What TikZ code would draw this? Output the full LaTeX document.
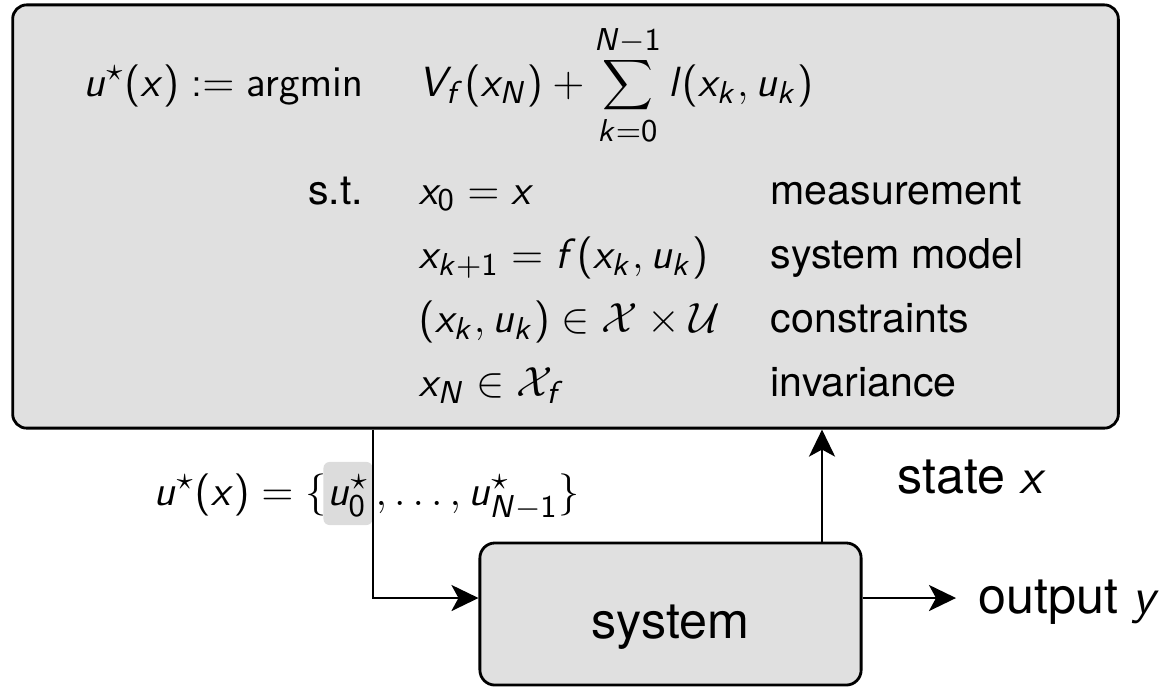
\documentclass[tikz,border=0pt]{standalone}
\usepackage[no-math]{fontspec}
\setmainfont{TeX Gyre Heros}
\usetikzlibrary{arrows.meta,positioning}

% sans serif math: slanted cmss letters, upright cmss digits and operators
\DeclareSymbolFont{sfletters}{OT1}{cmss}{m}{sl}
\SetSymbolFont{operators}{normal}{OT1}{cmss}{m}{n}
\makeatletter
\def\sfltr#1{\mathcode`#1=\numexpr"7000+\symsfletters*"100+`#1\relax}
\@tfor\ltr:=abcdefghijklmnopqrstuvwxyzABCDEFGHIJKLMNOPQRSTUVWXYZ\do{\expandafter\sfltr\ltr}
\makeatother

\definecolor{boxgray}{HTML}{E0E0E0}
\definecolor{hilite}{HTML}{DCDCDC}

\begin{document}
\begin{tikzpicture}[x=0.01cm, y=-0.01cm,
    font=\fontsize{12.2}{14}\selectfont,
    block/.style={draw, line width=0.8pt, fill=boxgray, rounded corners=0.14cm},
    cell/.style={inner sep=0pt},
    note/.style={inner sep=0pt, font=\fontsize{11.7}{14}\selectfont},
    lbl/.style={inner sep=0pt, font=\fontsize{14.3}{17}\selectfont},
    hilitebox/.style={fill=hilite, rounded corners=0.06cm, inner sep=0pt},
    sig/.style={line width=0.8pt, -{Stealth[length=0.27cm, width=0.26cm, inset=0.07cm]}}
]
    \useasboundingbox (0,0) rectangle (1171,687);

    % blocks
    \node[block, minimum width=11.05cm, minimum height=4.23cm] (mpc) at (565.5,216.5) {};
    \node[block, minimum width=3.81cm, minimum height=1.42cm, rounded corners=0.15cm,
          lbl, text height=0.58cm, text depth=0.1cm] (sys) at (670.5,614) {system};

    % optimal control problem
    \node[cell, anchor=base east] (cost) at (364,96) {$u^\star(x) \mathrel{:}\mathrel{=} \mathop{\mathrm{argmin}}$};
    \node[cell, anchor=base west] (obj) at (418,96) {$\displaystyle V_f(x_N) + \sum_{k=0}^{N-1} l(x_k, u_k)$};
    \node[note, anchor=base east] (st) at (364,204) {s.t.};
    \node[cell, anchor=base west] (c1) at (418,204) {$x_0 = x$};
    \node[cell, anchor=base west] (c2) at (418,268) {$x_{k+1} = f(x_k, u_k)$};
    \node[cell, anchor=base west] (c3) at (418,332) {$(x_k, u_k) \in \mathcal{X} \times \mathcal{U}$};
    \node[cell, anchor=base west] (c4) at (418,396) {$x_N \in \mathcal{X}_f$};
    \node[note, anchor=base west] (d1) at (770,204) {measurement};
    \node[note, anchor=base west] (d2) at (770,268) {system model};
    \node[note, anchor=base west] (d3) at (770,332) {constraints};
    \node[note, anchor=base west] (d4) at (770,396) {invariance};

    % input sequence, first element marked
    \node[hilitebox, anchor=base, minimum width=0.49cm, text height=0.43cm, text depth=0.2cm] (u0) at (348,505) {$u_0^\star$};
    \node[cell, anchor=base east] (useq) at (327,505) {$u^\star(x) = \{$};
    \node[cell, anchor=base west] (urest) at (375,505) {$, \ldots, u^\star_{N-1}\}$};

    % signals
    \coordinate (ujoin) at (373,598);
    \coordinate (xfb) at (822,598);
    \coordinate (yout) at (956,598);
    \draw[sig] (mpc.south -| ujoin) |- (sys.west |- ujoin);
    \draw[sig] (sys.north -| xfb) -- (mpc.south -| xfb);
    \draw[sig] (sys.east |- yout) -- (yout);
    \node[lbl, anchor=base west] (xlbl) at (897,493) {state $x$};
    \node[lbl, anchor=base west] (ylbl) at (978,613) {output $y$};
\end{tikzpicture}
\end{document}
